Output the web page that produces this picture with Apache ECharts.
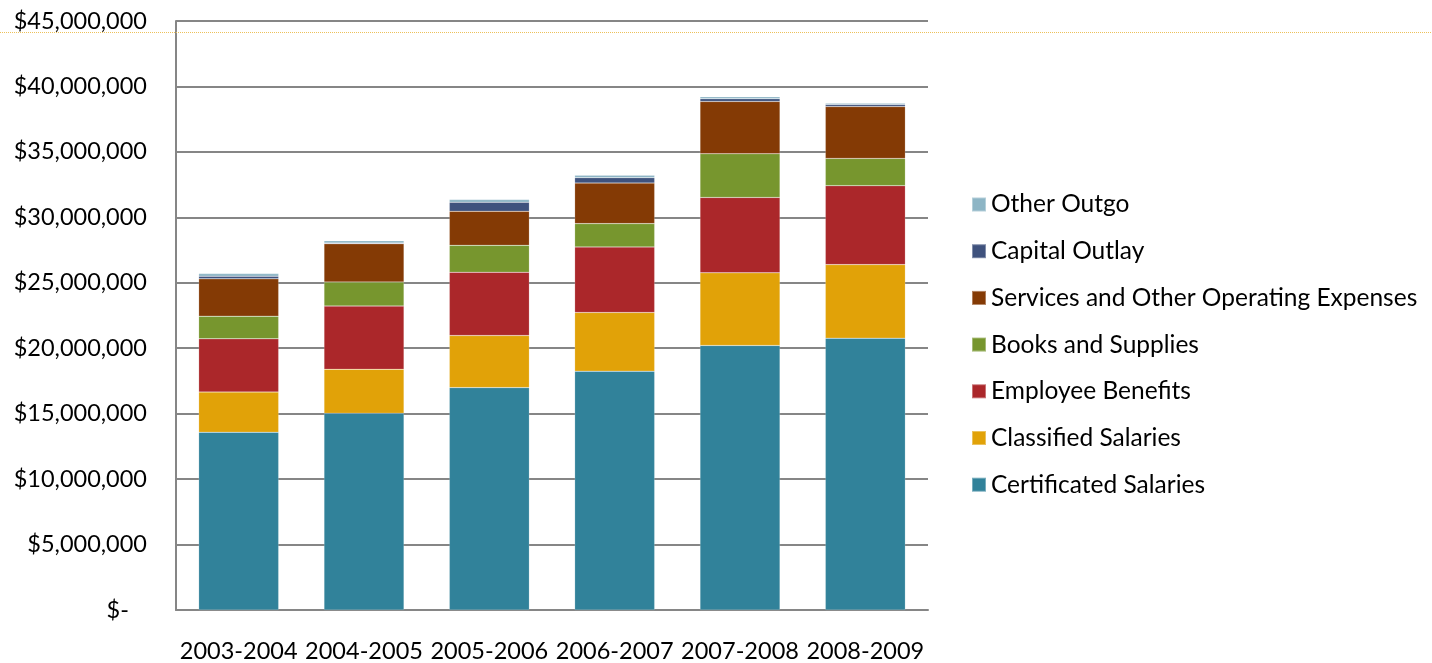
<!DOCTYPE html>
<html>
<head>
<meta charset="utf-8">
<script src="https://cdn.jsdelivr.net/npm/echarts@6/dist/echarts.min.js"></script>
<style>html,body{margin:0;padding:0;background:#fff;}#c{width:1432px;height:663px;}</style>
</head>
<body>
<div id="c"></div>
<script>
const categories = ['2003-2004','2004-2005','2005-2006','2006-2007','2007-2008','2008-2009'];
const certificatedSalaries = [13580000, 15030000, 16990000, 18250000, 20210000, 20770000];
const classifiedSalaries   = [3070000, 3360000, 3980000, 4480000, 5550000, 5620000];
const employeeBenefits     = [4070000, 4830000, 4830000, 5010000, 5760000, 6030000];
const booksAndSupplies     = [1730000, 1830000, 2060000, 1780000, 3340000, 2080000];
const servicesOperating    = [2850000, 2930000, 2600000, 3100000, 3990000, 3960000];
const capitalOutlay        = [200000, 50000, 690000, 410000, 210000, 160000];
const otherOutgo           = [200000, 180000, 210000, 190000, 150000, 100000];
const yTicks = { min: 0, max: 45000000, interval: 5000000 };

const seriesDefs = [
  ['Certificated Salaries', certificatedSalaries, '#31829A'],
  ['Classified Salaries', classifiedSalaries, '#E1A208'],
  ['Employee Benefits', employeeBenefits, '#AB272A'],
  ['Books and Supplies', booksAndSupplies, '#77962E'],
  ['Services and Other Operating Expenses', servicesOperating, '#843A05'],
  ['Capital Outlay', capitalOutlay, '#3F527D'],
  ['Other Outgo', otherOutgo, '#8DB5C5']
];
const FONT = 'Lato';
function fmt(v){
  if (v === 0) return '$-   ';
  return '$' + v.toLocaleString('en-US');
}
const chart = echarts.init(document.getElementById('c'), null, {renderer:'canvas'});
chart.setOption({
  animation: false,
  backgroundColor: '#ffffff',
  textStyle: { fontFamily: FONT },
  grid: { left: 176, right: 504, top: 21, bottom: 52, containLabel: false },
  legend: {
    orient: 'vertical',
    left: 966, top: 187,
    itemWidth: 14, itemHeight: 14, itemGap: 21.7,
    icon: 'rect',
    data: seriesDefs.map(s => s[0]).reverse(),
    textStyle: { fontFamily: FONT, fontSize: 24.5, color: '#000', lineHeight: 24 }
  },
  xAxis: {
    type: 'category',
    data: categories,
    axisLine: { lineStyle: { color: '#868686', width: 2 } },
    axisTick: { show: false },
    axisLabel: { interval: 0, fontFamily: FONT, fontSize: 23.5, color: '#000', margin: 29 }
  },
  yAxis: {
    type: 'value',
    min: yTicks.min, max: yTicks.max, interval: yTicks.interval,
    axisLine: { show: true, lineStyle: { color: '#868686', width: 2 } },
    axisTick: { show: false },
    splitLine: { lineStyle: { color: '#868686', width: 2 } },
    axisLabel: { fontFamily: FONT, fontSize: 23.5, color: '#000', margin: 29, formatter: fmt }
  },
  series: seriesDefs.map(([name, data, color]) => ({
    name, type: 'bar', stack: 'total', data,
    barWidth: 80,
    itemStyle: { color, borderColor: 'rgba(255,255,255,0.35)', borderWidth: 0.5 }
  })),
  graphic: [{
    type: 'line', z: 100,
    shape: { x1: 0, y1: 32.5, x2: 1432, y2: 32.5 },
    style: { stroke: '#EDC15A', lineWidth: 1, lineDash: [1, 1] }
  }]
});
</script>
</body>
</html>
